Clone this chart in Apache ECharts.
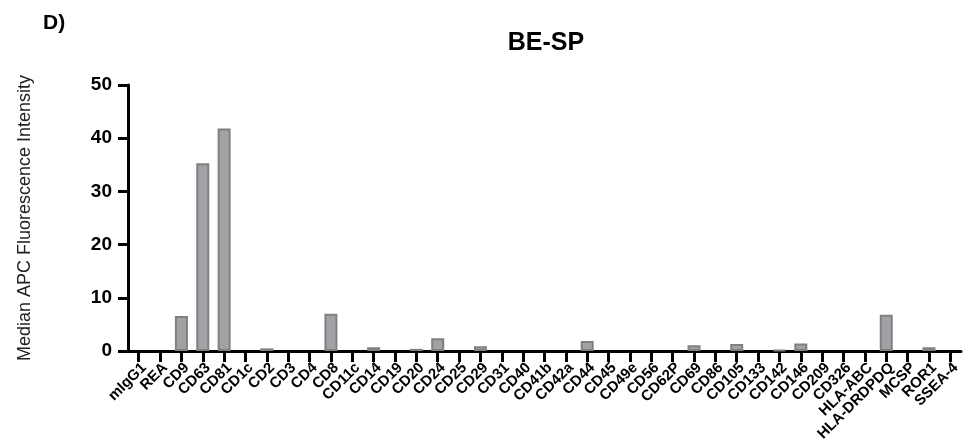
<!DOCTYPE html>
<html>
<head>
<meta charset="utf-8">
<script src="https://cdn.jsdelivr.net/npm/echarts@6/dist/echarts.min.js"></script>
<style>html,body{margin:0;padding:0;background:#fff}#c{width:968px;height:446px}</style>
</head>
<body>
<div id="c"></div>
<script>
const categories = ["mIgG1","REA","CD9","CD63","CD81","CD1c","CD2","CD3","CD4","CD8","CD11c","CD14","CD19","CD20","CD24","CD25","CD29","CD31","CD40","CD41b","CD42a","CD44","CD45","CD49e","CD56","CD62P","CD69","CD86","CD105","CD133","CD142","CD146","CD209","CD326","HLA-ABC","HLA-DRDPDQ","MCSP","ROR1","SSEA-4"];
const values = [0,0,6.6,35.3,41.8,0,0.5,0,0,7.0,0,0.7,0,0.4,2.4,0,0.9,0,0,0,0,1.9,0,0,0,0,1.1,0,1.3,0,0.2,1.4,0,0,0,6.8,0,0.7,0];
const yTicks = [0,10,20,30,40,50];

const font = "Liberation Sans, Arial, sans-serif";
const chart = echarts.init(document.getElementById('c'), null, {renderer:'canvas'});
chart.setOption({
  animation:false,
  backgroundColor:'#fff',
  graphic:[{type:'text', left:43, top:13, style:{text:'D)', font:'bold 21px '+font, fill:'#000'}}],
  title:{text:'BE-SP', left:541, textAlign:'center', top:26, textStyle:{fontFamily:font, fontWeight:'bold', fontSize:25, color:'#000'}},
  grid:{left:128, right:7, top:85, bottom:95, containLabel:false},
  xAxis:{
    type:'category', data:categories, boundaryGap:true,
    axisLine:{lineStyle:{color:'#000', width:3}},
    axisTick:{show:true, alignWithLabel:true, length:11, lineStyle:{color:'#000', width:3}},
    axisLabel:{rotate:45, interval:0, margin:9, verticalAlign:'top', fontFamily:font, fontWeight:'bold', fontSize:15, color:'#000'}
  },
  yAxis:{
    type:'value', min:0, max:50, interval:10,
    name:'Median APC Fluorescence Intensity', nameLocation:'middle', nameGap:94,
    nameTextStyle:{fontFamily:font, fontSize:18, color:'#222'},
    axisLine:{show:true, lineStyle:{color:'#000', width:3}},
    axisTick:{show:true, length:10, lineStyle:{color:'#000', width:3}},
    axisLabel:{margin:16, fontFamily:font, fontWeight:'bold', fontSize:19, color:'#000',
      formatter:v=>yTicks.includes(v)?String(v):''},
    splitLine:{show:false}
  },
  series:[{
    type:'bar', data:values.map(v => v === 0 ? null : v), barWidth:13,
    itemStyle:{color:'#a2a2a6', borderColor:'#808080', borderWidth:2}
  }]
});
</script>
</body>
</html>
